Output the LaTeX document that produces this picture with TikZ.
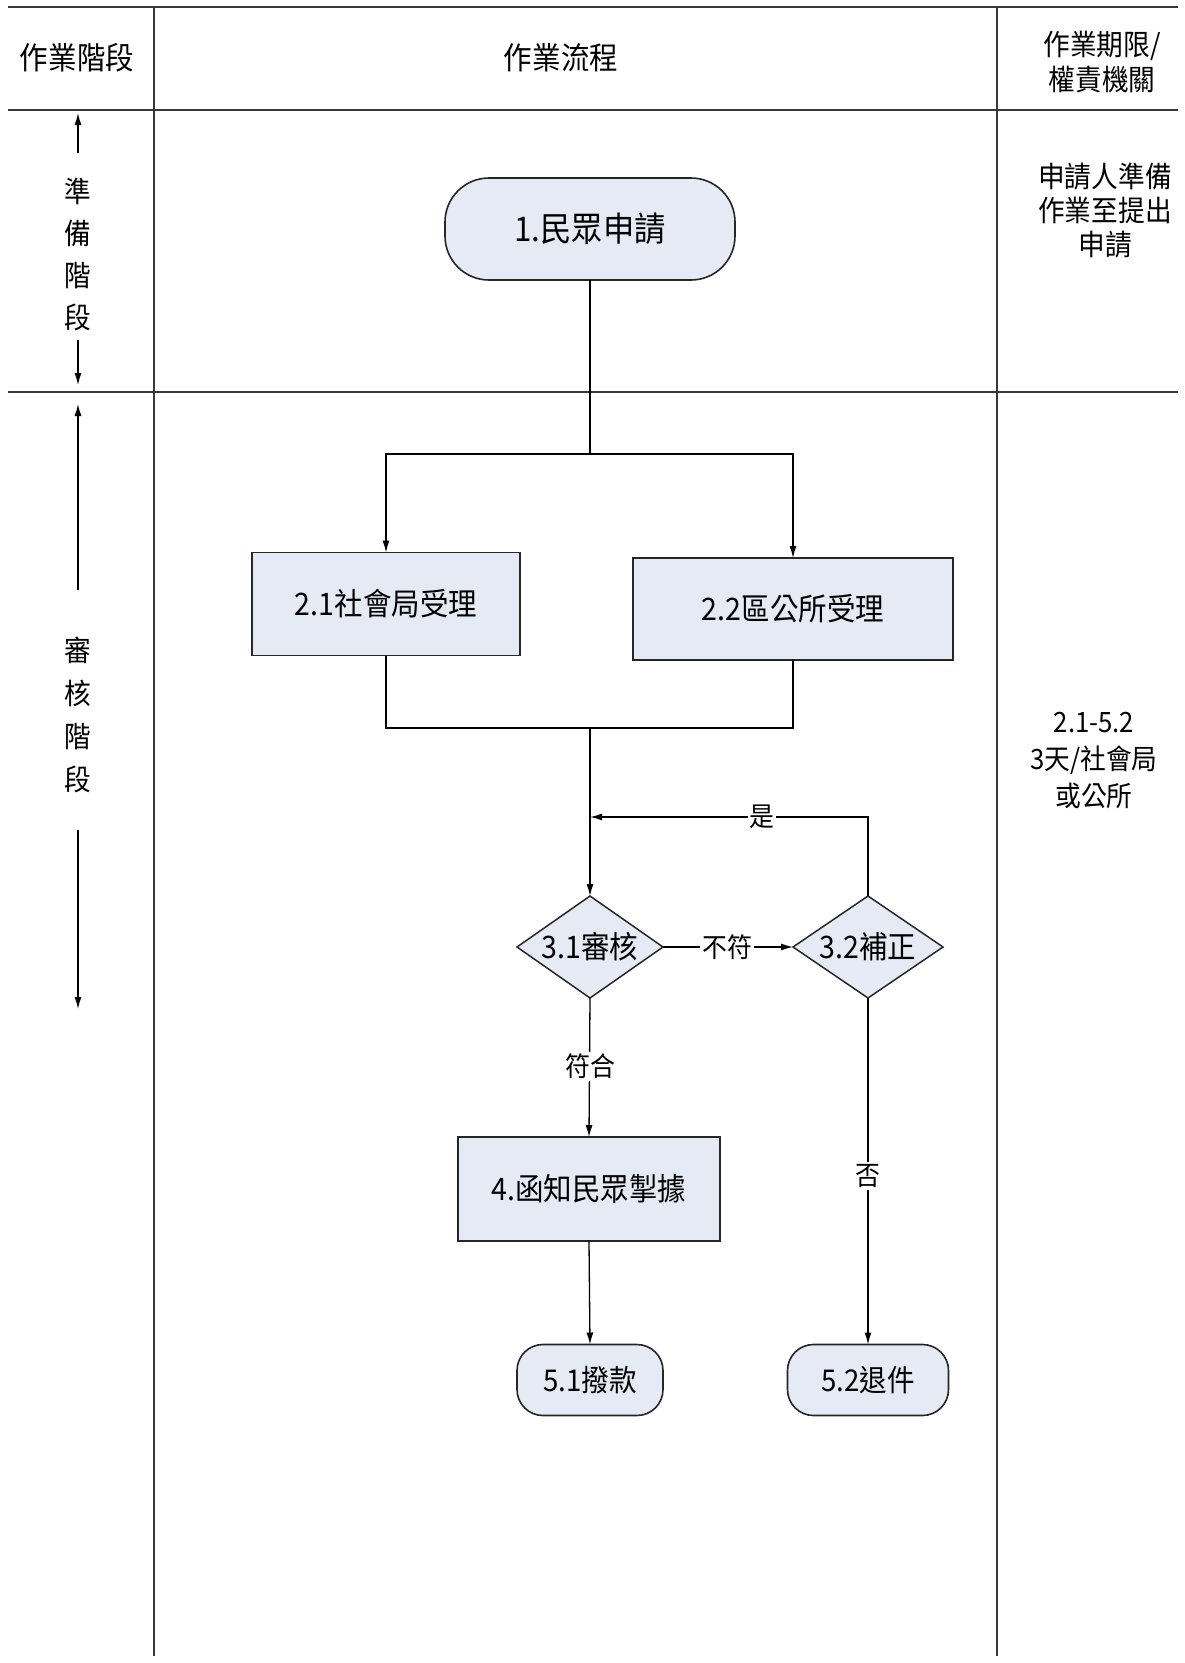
\documentclass[tikz,border=0pt]{standalone}
\usepackage{fontspec}
\setmainfont{Noto Sans CJK TC}[FakeStretch=0.92]
\usetikzlibrary{shapes.geometric,arrows.meta}
\definecolor{boxfill}{RGB}{230,234,245}
\definecolor{gridline}{RGB}{55,55,55}
\begin{document}
\begin{tikzpicture}[x=1pt,y=-1pt,
  every node/.style={inner sep=0pt, outer sep=0pt},
  txt/.style={font=\fontsize{29}{35}\selectfont},
  lbl/.style={font=\fontsize{27}{30}\selectfont, fill=white, inner sep=2pt},
  tblh/.style={draw=gridline, line width=2.6pt},
  tblv/.style={draw=gridline, line width=1.6pt},
  flow/.style={draw=black, line width=1.3pt},
  arr/.style={flow, -{Latex[length=12pt,width=7pt]}},
  procbox/.style={draw=black!85, line width=1.8pt, fill=boxfill, rectangle, font=\fontsize{31}{36}\selectfont},
  termbox/.style={draw=black!85, line width=1.6pt, fill=boxfill, rectangle, font=\fontsize{30}{36}\selectfont},
  decbox/.style={draw=black!85, line width=1.5pt, fill=boxfill, diamond, font=\fontsize{31}{36}\selectfont}
]
\useasboundingbox (0,0) rectangle (1184,1663);
\fill[white] (0,0) rectangle (1184,1663);

% table grid
\coordinate (tl) at (8,7);   \coordinate (tr) at (1178,7);
\coordinate (hl) at (8,110); \coordinate (hr) at (1178,110);
\coordinate (sl) at (8,392); \coordinate (sr) at (1178,392);
\coordinate (v1t) at (154,7); \coordinate (v1b) at (154,1656);
\coordinate (v2t) at (997,7); \coordinate (v2b) at (997,1656);
\draw[tblh] (tl) -- (tr);
\draw[tblh] (hl) -- (hr);
\draw[tblh] (sl) -- (sr);
\draw[tblv] (v1t) -- (v1b);
\draw[tblv] (v2t) -- (v2b);

% headers
\node[txt, font=\fontsize{31}{36}\selectfont] (hstage) at (77,58) {作業階段};
\node[txt, font=\fontsize{31}{36}\selectfont] (hflow) at (561,58) {作業流程};
\node[txt, align=center] (hdead) at (1102,62) {作業期限/\\權責機關};

% left column: stage labels with arrows
\node[txt, align=center, font=\fontsize{29}{42}\selectfont] (st1) at (78,254) {準\\備\\階\\段};
\coordinate (a1s) at (78,153); \coordinate (a1e) at (78,113);
\coordinate (a2s) at (78,340); \coordinate (a2e) at (78,385);
\draw[arr] (a1s) -- (a1e);
\draw[arr] (a2s) -- (a2e);

\node[txt, align=center, font=\fontsize{29}{43}\selectfont] (st2) at (78,715) {審\\核\\階\\段};
\coordinate (b1s) at (78,590); \coordinate (b1e) at (78,404);
\coordinate (b2s) at (78,830); \coordinate (b2e) at (78,1009);
\draw[arr] (b1s) -- (b1e);
\draw[arr] (b2s) -- (b2e);

% right column
\node[txt, align=center, font=\fontsize{29}{34}\selectfont] (r1) at (1105,211) {申請人準備\\作業至提出\\申請};
\node[txt, align=center, font=\fontsize{28}{37}\selectfont] (r2) at (1094,760) {2.1-5.2\\3天/社會局\\或公所};

% flow nodes
\node[termbox, rounded corners=44pt, minimum width=290pt, minimum height=102pt, font=\fontsize{34}{38}\selectfont] (n1) at (590,229) {1.民眾申請};
\node[procbox, minimum width=268pt, minimum height=103pt] (n21) at (386,604) {2.1社會局受理};
\node[procbox, minimum width=320pt, minimum height=102pt] (n22) at (793,609) {2.2區公所受理};
\node[decbox, minimum width=146pt, minimum height=102pt] (d31) at (590,947) {\makebox[0pt]{3.1審核}};
\node[decbox, minimum width=150pt, minimum height=102pt] (d32) at (868,947) {\makebox[0pt]{3.2補正}};
\node[procbox, minimum width=262pt, minimum height=104pt] (n4) at (589,1189) {4.函知民眾掣據};
\node[termbox, rounded corners=26pt, minimum width=146pt, minimum height=71pt] (n51) at (590,1380) {5.1撥款};
\node[termbox, rounded corners=26pt, minimum width=161pt, minimum height=71pt] (n52) at (868,1380) {5.2退件};

% connectors
\coordinate (split) at (590,454);
\coordinate (splitL) at (386,454);
\coordinate (splitR) at (793,454);
\draw[flow] (n1.south) -- (split);
\draw[arr] (split) -- (splitL) -- (n21.north);
\draw[arr] (split) -- (splitR) -- (n22.north);

\coordinate (merge) at (590,728);
\coordinate (mergeL) at (386,728);
\coordinate (mergeR) at (793,728);
\draw[flow] (n21.south) -- (mergeL) -- (merge);
\draw[flow] (n22.south) -- (mergeR) -- (merge);
\draw[arr] (merge) -- (d31.north);

\coordinate (loopR) at (868,817);
\coordinate (loopL) at (590,817);
\draw[arr] (d32.north) -- (loopR) -- (loopL);
\node[lbl] (lyes) at (762,817) {是};

\draw[arr] (d31.east) -- (d32.west);
\node[lbl] (lno) at (727,947) {不符};

\draw[arr] (d31.south) -- (n4.north);
\node[lbl] (lok) at (590,1066) {符合};

\draw[arr] (n4.south) -- (n51.north);

\draw[arr] (d32.south) -- (n52.north);
\node[lbl] (lnot) at (868,1176) {否};

\end{tikzpicture}
\end{document}
